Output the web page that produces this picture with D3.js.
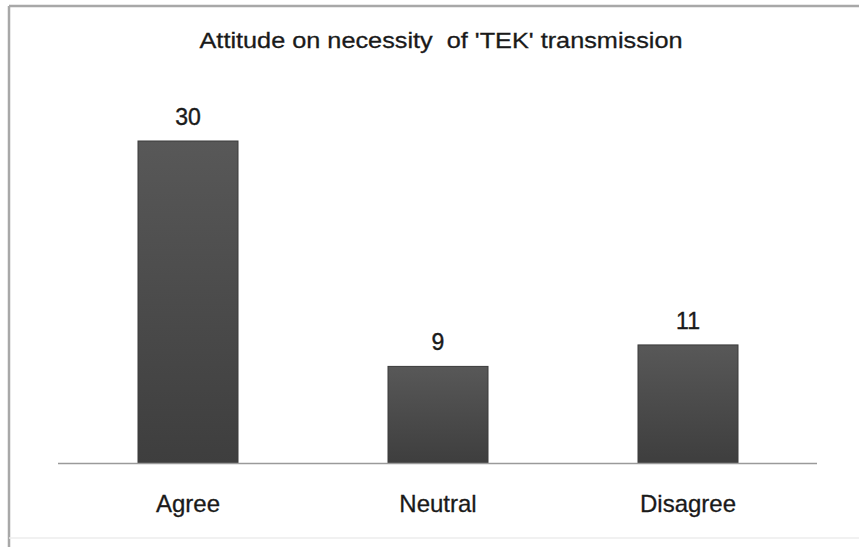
<!DOCTYPE html>
<html>
<head>
<meta charset="utf-8">
<script src="https://cdn.jsdelivr.net/npm/d3@7"></script>
<style>
  html, body { margin: 0; padding: 0; background: #fff; }
  svg { display: block; }
</style>
</head>
<body>
<svg id="chart" width="859" height="547"></svg>
<script>
// Survey responses: attitude on necessity of TEK transmission
const categories = ["Agree", "Neutral", "Disagree"];
const counts = [30, 9, 11];
const titleText = "Attitude on necessity  of 'TEK' transmission";

const svg = d3.select("#chart");
const W = 859, H = 547;
const font = "Liberation Sans, Arial, sans-serif";

svg.append("rect").attr("width", W).attr("height", H).attr("fill", "#fff");

// Soft frame around the chart area (visible on top and left)
const frame = svg.append("g");
frame.append("line").attr("x1", 9).attr("y1", 6).attr("x2", W).attr("y2", 6)
  .attr("stroke", "#a8a8a8").attr("stroke-width", 2.5);
frame.append("line").attr("x1", 9).attr("y1", 6).attr("x2", 9).attr("y2", H)
  .attr("stroke", "#a8a8a8").attr("stroke-width", 2.5);
frame.append("line").attr("x1", 9).attr("y1", 538).attr("x2", W).attr("y2", 538)
  .attr("stroke", "#ececec").attr("stroke-width", 1.5);

const defs = svg.append("defs");
const grad = defs.append("linearGradient").attr("id", "barFill")
  .attr("x1", 0).attr("y1", 0).attr("x2", 0).attr("y2", 1);
grad.append("stop").attr("offset", "0%").attr("stop-color", "#585858");
grad.append("stop").attr("offset", "100%").attr("stop-color", "#3e3e3e");

const baseline = 463;
const x = d3.scaleBand().domain(categories).range([63, 813])
  .paddingInner(0.6).paddingOuter(0.3);
const y = d3.scaleLinear().domain([0, 30]).range([baseline, 141]);

// Title
svg.append("text")
  .attr("x", 441).attr("y", 48)
  .attr("text-anchor", "middle")
  .attr("font-family", font)
  .attr("font-size", 22)
  .attr("fill", "#1a1a1a")
  .attr("stroke", "#1a1a1a").attr("stroke-width", 0.3)
  .attr("textLength", 483).attr("lengthAdjust", "spacingAndGlyphs")
  .style("white-space", "pre")
  .text(titleText);

// Bars
svg.append("g").selectAll("rect")
  .data(categories)
  .join("rect")
  .attr("x", d => x(d))
  .attr("y", (d, i) => y(counts[i]))
  .attr("width", x.bandwidth())
  .attr("height", (d, i) => baseline - y(counts[i]))
  .attr("fill", "url(#barFill)")
  .attr("stroke", "#3a3a3a").attr("stroke-width", 1);

// Baseline axis
svg.append("line")
  .attr("x1", 58).attr("x2", 817)
  .attr("y1", baseline + 0.5).attr("y2", baseline + 0.5)
  .attr("stroke", "#9a9a9a").attr("stroke-width", 1.5);

// Value labels
svg.append("g").selectAll("text")
  .data(categories)
  .join("text")
  .attr("x", d => x(d) + x.bandwidth() / 2)
  .attr("y", (d, i) => y(counts[i]) - 16)
  .attr("text-anchor", "middle")
  .attr("font-family", font)
  .attr("font-size", 23)
  .attr("fill", "#1a1a1a")
  .attr("stroke", "#1a1a1a").attr("stroke-width", 0.4)
  .text((d, i) => counts[i]);

// Category labels
svg.append("g").selectAll("text")
  .data(categories)
  .join("text")
  .attr("x", d => x(d) + x.bandwidth() / 2)
  .attr("y", 512)
  .attr("text-anchor", "middle")
  .attr("font-family", font)
  .attr("font-size", 24)
  .attr("fill", "#1a1a1a")
  .attr("stroke", "#1a1a1a").attr("stroke-width", 0.3)
  .text(d => d);
</script>
</body>
</html>
